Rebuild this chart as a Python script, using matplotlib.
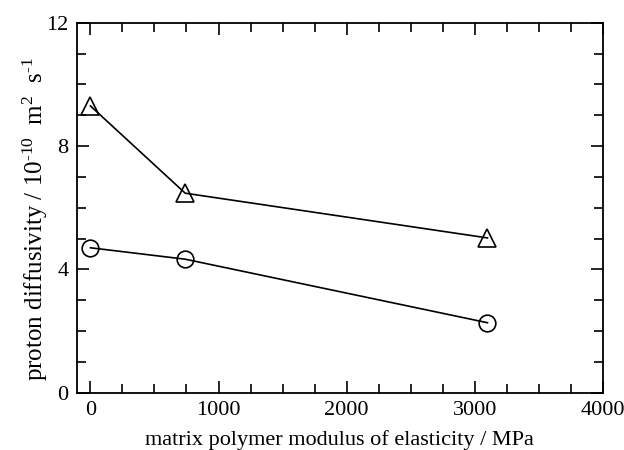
import matplotlib
matplotlib.use("Agg")
import matplotlib.pyplot as plt
from matplotlib.ticker import MultipleLocator

# matrix modulus (MPa) and proton diffusivity (1e-10 m^2/s)
modulus = [0, 740, 3100]
diff_triangle = [9.3, 6.47, 5.02]
diff_circle = [4.7, 4.33, 2.27]

plt.rcParams["font.family"] = ["Liberation Serif", "DejaVu Serif"]
plt.rcParams["mathtext.fontset"] = "custom"
plt.rcParams["mathtext.rm"] = "Liberation Serif"
plt.rcParams["mathtext.it"] = "Liberation Serif:italic"

fig = plt.figure(figsize=(6.24, 4.5), dpi=100)
ax = fig.add_axes([0.1234, 0.1273, 0.8425, 0.8223])

ax.plot(modulus, diff_triangle, "-", color="black", linewidth=1.2,
        marker="^", markersize=12.5, fillstyle="none", markeredgewidth=1.2)
ax.plot(modulus, diff_circle, "-", color="black", linewidth=1.2,
        marker="o", markersize=12, fillstyle="none", markeredgewidth=1.2)

ax.set_xlim(-105, 4000)
ax.set_ylim(0, 12)
ax.xaxis.set_major_locator(MultipleLocator(1000))
ax.xaxis.set_minor_locator(MultipleLocator(250))
ax.yaxis.set_major_locator(MultipleLocator(4))
ax.yaxis.set_minor_locator(MultipleLocator(1))
ax.tick_params(which="both", direction="in", top=True, right=True,
               labelsize=16, width=1.2)
ax.tick_params(which="major", length=8.5, pad=6)
ax.tick_params(which="minor", length=6.5)
for sp in ax.spines.values():
    sp.set_linewidth(1.3)

ax.set_xlabel("matrix polymer modulus of elasticity / MPa", fontsize=16, labelpad=7)
ax.set_ylabel("proton diffusivity / 10$^{\u201010}$  m$^{2}$  s$^{\u20101}$",
              fontsize=18)
ax.yaxis.set_label_coords(-0.052, 0.47)

fig.savefig("out.png", dpi=100)
